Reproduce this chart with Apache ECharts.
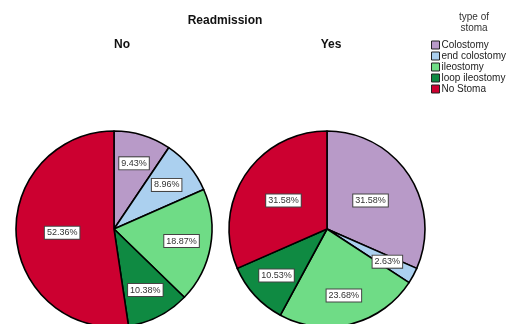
<!DOCTYPE html>
<html lang="en">
<head>
    <meta charset="UTF-8">
    <title>Readmission by type of stoma</title>
    <script src="https://cdn.jsdelivr.net/npm/echarts@6/dist/echarts.min.js"></script>
    <style>
        body { margin: 0; background: #fff; }
        #main { width: 507px; height: 324px; }
    </style>
</head>
<body>
    <div id="main"></div>
    <script>
        // type of stoma categories and percentages per readmission group
        var categories = ['Colostomy', 'end colostomy', 'ileostomy', 'loop ileostomy', 'No Stoma'];
        var colors = ['#b89ac8', '#abd0ef', '#6fdc86', '#0f8a42', '#cc0030'];
        var groups = ['No', 'Yes'];
        var valuesNo = [9.43, 8.96, 18.87, 10.38, 52.36];
        var valuesYes = [31.58, 2.63, 23.68, 10.53, 31.58];

        var centers = [[114, 229], [327, 229]];
        var radius = 98;

        function makeSeries(name, values, idx) {
            return {
                name: name,
                type: 'pie',
                center: centers[idx],
                radius: radius,
                startAngle: 90,
                clockwise: true,
                animation: false,
                silent: true,
                itemStyle: { borderColor: '#000', borderWidth: 1.6 },
                label: {
                    show: true,
                    position: 'inside',
                    formatter: function (p) { return p.value.toFixed(2) + '%'; },
                    fontFamily: 'Liberation Sans',
                    fontSize: 9,
                    color: '#333',
                    backgroundColor: '#fff',
                    borderColor: '#444',
                    borderWidth: 1,
                    padding: [2, 2, 1, 2]
                },
                labelLayout: function (p) {
                    // push labels of smaller slices further out like the original
                    var v = values[p.dataIndex];
                    var c = centers[idx];
                    var lx = p.labelRect.x + p.labelRect.width / 2;
                    var ly = p.labelRect.y + p.labelRect.height / 2;
                    var k = v < 25 ? 0.32 : 0.0;
                    return { dx: (lx - c[0]) * k, dy: (ly - c[1]) * k };
                },
                data: categories.map(function (c, i) {
                    return { name: c, value: values[i], itemStyle: { color: colors[i] } };
                })
            };
        }

        var chart = echarts.init(document.getElementById('main'));
        chart.setOption({
            backgroundColor: '#fff',
            title: [
                { text: 'Readmission', left: 220, top: 10, textAlign: 'center',
                  textStyle: { fontFamily: 'Liberation Sans', fontSize: 12, fontWeight: 'bold', color: '#111' } },
                { text: groups[0], left: 117, top: 34, textAlign: 'center',
                  textStyle: { fontFamily: 'Liberation Sans', fontSize: 12, fontWeight: 'bold', color: '#111' } },
                { text: groups[1], left: 326, top: 34, textAlign: 'center',
                  textStyle: { fontFamily: 'Liberation Sans', fontSize: 12, fontWeight: 'bold', color: '#111' } },
                { text: 'type of\nstoma', left: 469, top: 7, textAlign: 'center',
                  textStyle: { fontFamily: 'Liberation Sans', fontSize: 10, fontWeight: 'normal', color: '#333', lineHeight: 11 } }
            ],
            legend: {
                orient: 'vertical',
                left: 431,
                top: 40,
                icon: 'rect',
                itemWidth: 8,
                itemHeight: 8,
                itemGap: 1,
                padding: 0,
                selectedMode: false,
                data: categories,
                itemStyle: { borderColor: '#222', borderWidth: 1 },
                textStyle: { fontFamily: 'Liberation Sans', fontSize: 10, lineHeight: 10, color: '#222', padding: [0, 0, 0, -3] }
            },
            series: [makeSeries(groups[0], valuesNo, 0), makeSeries(groups[1], valuesYes, 1)]
        });
    </script>
</body>
</html>
